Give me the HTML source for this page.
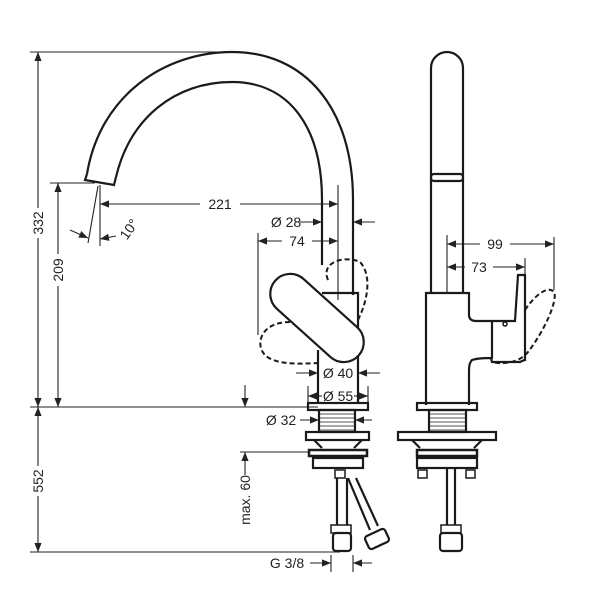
<!DOCTYPE html>
<html><head><meta charset="utf-8"><style>
html,body{margin:0;padding:0;background:#fff}
svg{display:block}
text{font-family:"Liberation Sans",sans-serif;font-size:14px;fill:#222}
</style></head><body>
<svg width="603" height="603" viewBox="0 0 603 603" xmlns="http://www.w3.org/2000/svg">
<defs>
<marker id="a" viewBox="0 0 10 10" refX="10" refY="5" markerWidth="9" markerHeight="9" orient="auto-start-reverse" markerUnits="userSpaceOnUse"><path d="M0,1 L10,5 L0,9z" fill="#222"/></marker>
</defs>
<g stroke="#222" fill="none" stroke-width="1.1">
<line x1="30" y1="52" x2="232" y2="52"/>
<line x1="30" y1="407" x2="318" y2="407"/>
<line x1="30" y1="552" x2="340" y2="552"/>
<line x1="50" y1="183" x2="95" y2="183"/>
<line x1="338" y1="185" x2="338" y2="300"/>
<line x1="258" y1="233" x2="258" y2="335"/>
<line x1="240" y1="452" x2="310" y2="452"/>
<line x1="331" y1="555" x2="331" y2="572"/>
<line x1="353" y1="555" x2="353" y2="572"/>
<line x1="447" y1="235" x2="447" y2="293"/>
<line x1="554" y1="237" x2="554" y2="290"/>
<line x1="525" y1="258" x2="525" y2="300"/>
<line x1="38" y1="52" x2="38" y2="208" marker-start="url(#a)"/>
<line x1="38" y1="238" x2="38" y2="407" marker-end="url(#a)"/>
<line x1="38" y1="407" x2="38" y2="466" marker-start="url(#a)"/>
<line x1="38" y1="496" x2="38" y2="552" marker-end="url(#a)"/>
<line x1="58" y1="183" x2="58" y2="254" marker-start="url(#a)"/>
<line x1="58" y1="286" x2="58" y2="407" marker-end="url(#a)"/>
<line x1="100" y1="204" x2="200" y2="204" marker-start="url(#a)"/>
<line x1="240" y1="204" x2="338" y2="204" marker-end="url(#a)"/>
<line x1="100" y1="185" x2="100" y2="246"/>
<line x1="98" y1="186" x2="88" y2="243"/>
<line x1="70" y1="230" x2="88" y2="238" marker-end="url(#a)"/>
<line x1="116" y1="236" x2="100" y2="239" marker-end="url(#a)"/>
<line x1="300" y1="222" x2="322" y2="222" marker-end="url(#a)"/>
<line x1="375" y1="222" x2="353" y2="222" marker-end="url(#a)"/>
<line x1="258" y1="241" x2="282" y2="241" marker-start="url(#a)"/>
<line x1="312" y1="241" x2="338" y2="241" marker-end="url(#a)"/>
<line x1="296" y1="373" x2="318" y2="373" marker-end="url(#a)"/>
<line x1="380" y1="373" x2="358" y2="373" marker-end="url(#a)"/>
<line x1="308" y1="386" x2="308" y2="404"/><line x1="368" y1="386" x2="368" y2="404"/>
<line x1="322" y1="396" x2="308" y2="396" marker-end="url(#a)"/>
<line x1="354" y1="396" x2="368" y2="396" marker-end="url(#a)"/>
<line x1="245" y1="385" x2="245" y2="407" marker-end="url(#a)"/>
<line x1="300" y1="420" x2="319" y2="420" marker-end="url(#a)"/>
<line x1="372" y1="420" x2="355" y2="420" marker-end="url(#a)"/>
<line x1="245" y1="475" x2="245" y2="452" marker-end="url(#a)"/>
<line x1="310" y1="563" x2="331" y2="563" marker-end="url(#a)"/>
<line x1="372" y1="563" x2="353" y2="563" marker-end="url(#a)"/>
<line x1="447" y1="244" x2="480" y2="244" marker-start="url(#a)"/>
<line x1="510" y1="244" x2="554" y2="244" marker-end="url(#a)"/>
<line x1="447" y1="267" x2="465" y2="267" marker-start="url(#a)"/>
<line x1="493" y1="267" x2="525" y2="267" marker-end="url(#a)"/>
</g>

<g stroke="#1a1a1a" fill="none" stroke-width="2.2">
<path d="M87,174 C100,95 165,52 232,52 C305,52 353,108 353,200 L353,295"/>
<path d="M116,177 C130,118 175,82 232,82 C290,82 322,128 322,200 L322,265"/>
<path d="M87,174 L85,180 L114,185 L116,177"/>
<path d="M322,293 L358,293 L358,403 M318,350 L318,403"/>
<g transform="translate(317,318) rotate(42)">
<rect x="-56" y="-20" width="112" height="40" rx="20" fill="#fff"/>
</g>
<rect x="308" y="403" width="60" height="7"/>
<rect x="319" y="410" width="36" height="22"/>
<rect x="306" y="432" width="63" height="8"/>
<path d="M314,440 L322,448 M362,440 L354,448"/>
<rect x="309" y="450" width="58" height="6" stroke-width="2.5"/>
<rect x="313" y="458" width="50" height="10"/>
<rect x="335" y="470" width="10" height="8" stroke-width="1.5"/>
<path d="M337,478 L337,525 M347,478 L347,525"/>
<path d="M348,478 L370,530 M356,478 L378,526"/>
<rect x="331" y="525" width="20" height="8" stroke-width="1.5"/>
<rect x="333" y="533" width="18" height="18" rx="3"/>
<g transform="translate(377,539) rotate(-25)"><rect x="-11" y="-7" width="22" height="14" rx="3"/></g>
<path d="M431,293 L431,68 A16,16 0 0 1 463,68 L463,293"/>
<rect x="431" y="174" width="32" height="7" rx="3"/>
<path d="M426,405 L426,293 L469,293 L469,316 Q470,321 476,321 L515,321 L518,275 L525,275 L525,360 Q524,360 520,362 L492,362 L491,358 M492,321 L492,358 Q478,358 472,360 Q469,363 469,370 L469,405"/>
<circle cx="505" cy="324" r="2" stroke-width="1.5"/>
<rect x="417" y="403" width="60" height="7"/>
<rect x="429" y="410" width="37" height="22"/>
<rect x="398" y="432" width="98" height="8"/>
<path d="M412,440 L420,448 M482,440 L474,448"/>
<rect x="417" y="450" width="60" height="6" stroke-width="2.5"/>
<rect x="417" y="458" width="60" height="10"/>
<rect x="418" y="470" width="9" height="8" stroke-width="1.5"/>
<rect x="466" y="470" width="9" height="8" stroke-width="1.5"/>
<path d="M447,468 L447,525 M455,468 L455,525"/>
<rect x="441" y="525" width="20" height="8" stroke-width="1.5"/>
<rect x="440" y="533" width="22" height="18" rx="3"/>
</g>
<g stroke="#1a1a1a" stroke-width="0.8">
<path d="M320,414 H354 M320,418 H354 M320,422 H354 M320,426 H354 M320,430 H354"/>
<path d="M430,414 H465 M430,418 H465 M430,422 H465 M430,426 H465 M430,430 H465"/>
</g>
<g stroke="#1a1a1a" fill="none" stroke-width="2" stroke-dasharray="5,3">
<path d="M328,280 C320,262 345,255 360,262 C372,275 368,300 358,320"/>
<path d="M290,322 C260,322 255,345 265,355 C275,365 300,364 318,363"/>
<path d="M525,310 C535,295 548,285 554,292 C558,300 545,330 528,352 C520,362 505,365 492,362"/>
</g>
<text x="220" y="209" text-anchor="middle">221</text>
<text x="286" y="227" text-anchor="middle">Ø 28</text>
<text x="297" y="246" text-anchor="middle">74</text>
<text x="338" y="378" text-anchor="middle">Ø 40</text>
<text x="338" y="401" text-anchor="middle">Ø 55</text>
<text x="281" y="425" text-anchor="middle">Ø 32</text>
<text x="287" y="568" text-anchor="middle">G 3/8</text>
<text x="495" y="249" text-anchor="middle">99</text>
<text x="479" y="272" text-anchor="middle">73</text>
<text transform="translate(43,223) rotate(-90)" text-anchor="middle">332</text>
<text transform="translate(43,481) rotate(-90)" text-anchor="middle">552</text>
<text transform="translate(63,270) rotate(-90)" text-anchor="middle">209</text>
<text transform="translate(250,500) rotate(-90)" text-anchor="middle">max. 60</text>
<text transform="translate(133,232) rotate(-55)" text-anchor="middle">10°</text>
</svg>
</body></html>
